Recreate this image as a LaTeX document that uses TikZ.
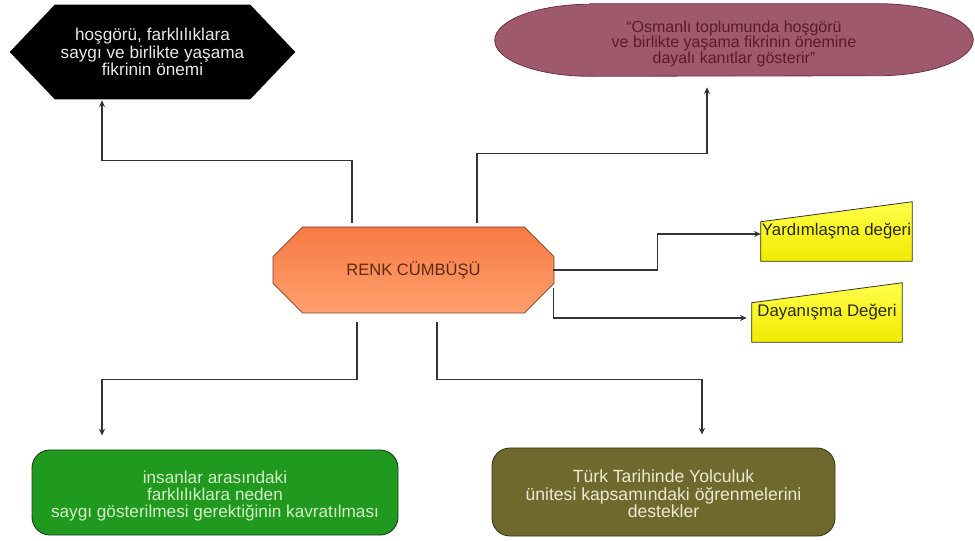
\documentclass[tikz,border=0pt]{standalone}
\usepackage{fontspec}
\setmainfont{Liberation Sans}
\usetikzlibrary{arrows.meta,shapes.misc,backgrounds,calc}

% one unit of the layout grid
\def\pu{0.75pt}

\definecolor{linegray}{HTML}{333333}
\definecolor{hextext}{HTML}{E8E8E8}
\definecolor{osmfill}{HTML}{9E5A6C}
\definecolor{osmdraw}{HTML}{6E3040}
\definecolor{osmtext}{HTML}{5A1A2A}
\definecolor{renktop}{HTML}{F67A44}
\definecolor{renkbot}{HTML}{FFA06E}
\definecolor{renkdraw}{HTML}{7A3E22}
\definecolor{renktext}{HTML}{5C2A14}
\definecolor{yeltop}{HTML}{FFFF4A}
\definecolor{yelbot}{HTML}{F2EA00}
\definecolor{yeltext}{HTML}{2A2A10}
\definecolor{grnfill}{HTML}{1F9A1F}
\definecolor{grndraw}{HTML}{1B3F1B}
\definecolor{grntext}{HTML}{D5EEC8}
\definecolor{olvfill}{HTML}{6E6A2E}
\definecolor{olvdraw}{HTML}{3B3A1A}
\definecolor{olvtext}{HTML}{EFE8D2}

\begin{document}
\begin{tikzpicture}[x=0.75pt,y=-0.75pt,
  box/.style={inner sep=0pt, align=center},
  arr/.style={draw=linegray, line width=0.8pt, -{Stealth[length=5pt,width=4.5pt]}},
  yelbox/.style={top color=yeltop, bottom color=yelbot, draw=linegray, line width=0.6pt},
  roundbox/.style={box, rounded corners=13.5pt, line width=0.7pt}]
\useasboundingbox (0,0) rectangle (975,541);

% ---- boxes ----
\node[box, minimum width=285*\pu, minimum height=94*\pu, text=hextext,
      font=\fontsize{12.9pt}{12pt}\selectfont] (hex) at (152.5,52)
  {hoşgörü, farklılıklara\\saygı ve birlikte yaşama\\fikrinin önemi};

\node[box, minimum width=478*\pu, minimum height=72*\pu] (osm) at (734,40) {};

\node[box, chamfered rectangle, chamfered rectangle xsep=47*\pu,
      chamfered rectangle ysep=21*\pu, minimum width=281*\pu, minimum height=86*\pu,
      top color=renktop, bottom color=renkbot, draw=renkdraw, line width=0.6pt,
      text=renktext, font=\fontsize{12.4pt}{12pt}\selectfont] (renk) at (413.5,270)
  {RENK CÜMBÜŞÜ};

\node[box, minimum width=151*\pu, minimum height=59*\pu, text=yeltext,
      font=\fontsize{12.6pt}{12pt}\selectfont] (yard) at (836.5,231.5)
  {Yardımlaşma değeri};

\node[box, minimum width=150*\pu, minimum height=59*\pu, text=yeltext,
      font=\fontsize{12.6pt}{12pt}\selectfont] (dayan) at (827,312.5)
  {Dayanışma Değeri};

\node[roundbox, minimum width=366*\pu, minimum height=85*\pu, fill=grnfill, draw=grndraw]
  (insan) at (215,492.5) {};

\node[roundbox, minimum width=343*\pu, minimum height=88*\pu, fill=olvfill, draw=olvdraw]
  (turk) at (663.5,492) {};

% ---- texts of the empty boxes ----
\node[box, text=osmtext, font=\fontsize{12pt}{11.6pt}\selectfont]
  (osmtxt) at ([yshift=-3.5*\pu]osm.center)
  {“Osmanlı toplumunda hoşgörü\\ve birlikte yaşama fikrinin önemine\\dayalı kanıtlar gösterir”};

\node[box, text=grntext, font=\fontsize{12.9pt}{12.75pt}\selectfont]
  (insantxt) at ([yshift=-4*\pu]insan.center)
  {insanlar arasındaki\\farklılıklara neden\\saygı gösterilmesi gerektiğinin kavratılması};

\node[box, text=olvtext, font=\fontsize{13.2pt}{13.1pt}\selectfont]
  (turktxt) at ([yshift=-2*\pu]turk.center)
  {Türk Tarihinde Yolculuk\\ünitesi kapsamındaki öğrenmelerini\\destekler};

% ---- shapes behind the text ----
\begin{scope}[on background layer]
  \fill[black] (hex.west) -- ([xshift=45*\pu]hex.north west)
    -- ([xshift=-45*\pu]hex.north east) -- (hex.east)
    -- ([xshift=-45*\pu]hex.south east) -- ([xshift=45*\pu]hex.south west) -- cycle;

  \filldraw[fill=osmfill, draw=osmdraw, line width=0.6pt]
    ([xshift=95*\pu]osm.north west) -- ([xshift=-95*\pu]osm.north east)
    arc[start angle=90, end angle=-90, x radius=95*\pu, y radius=36*\pu]
    -- ([xshift=95*\pu]osm.south west)
    arc[start angle=270, end angle=90, x radius=95*\pu, y radius=36*\pu] -- cycle;

  \path[yelbox] ([yshift=-20*\pu]yard.north west) -- (yard.north east)
    -- (yard.south east) -- (yard.south west) -- cycle;
  \path[yelbox] ([yshift=-20*\pu]dayan.north west) -- (dayan.north east)
    -- (dayan.south east) -- (dayan.south west) -- cycle;
\end{scope}

% ---- arrow ends ----
\coordinate (hexin) at ($(hex.south)+(-50.5,1)$);
\coordinate (osmin) at ($(osm.south)+(-27,11)$);
\coordinate (insanin) at ($(insan.north)+(-113,-14)$);
\coordinate (turkin) at ($(turk.north)+(38.5,-13)$);

% ---- connectors ----
\draw[arr] ([xshift=-61.5*\pu, yshift=4*\pu]renk.north) -- ++(0,-62) -| (hexin);
\draw[arr] ([xshift=63.5*\pu, yshift=4*\pu]renk.north) -- ++(0,-69) -| (osmin);
\draw[arr] ([xshift=-1*\pu]renk.east) -- ++(104,0) |- ([yshift=-2.5*\pu]yard.west);
\draw[arr] ([xshift=-1*\pu, yshift=-18*\pu]renk.east) |- ([xshift=-5*\pu, yshift=-5.5*\pu]dayan.west);
\draw[arr] ([xshift=-56.5*\pu, yshift=-9*\pu]renk.south) -- ++(0,57) -| (insanin);
\draw[arr] ([xshift=23.5*\pu, yshift=-9*\pu]renk.south) -- ++(0,57) -| (turkin);
\end{tikzpicture}
\end{document}
